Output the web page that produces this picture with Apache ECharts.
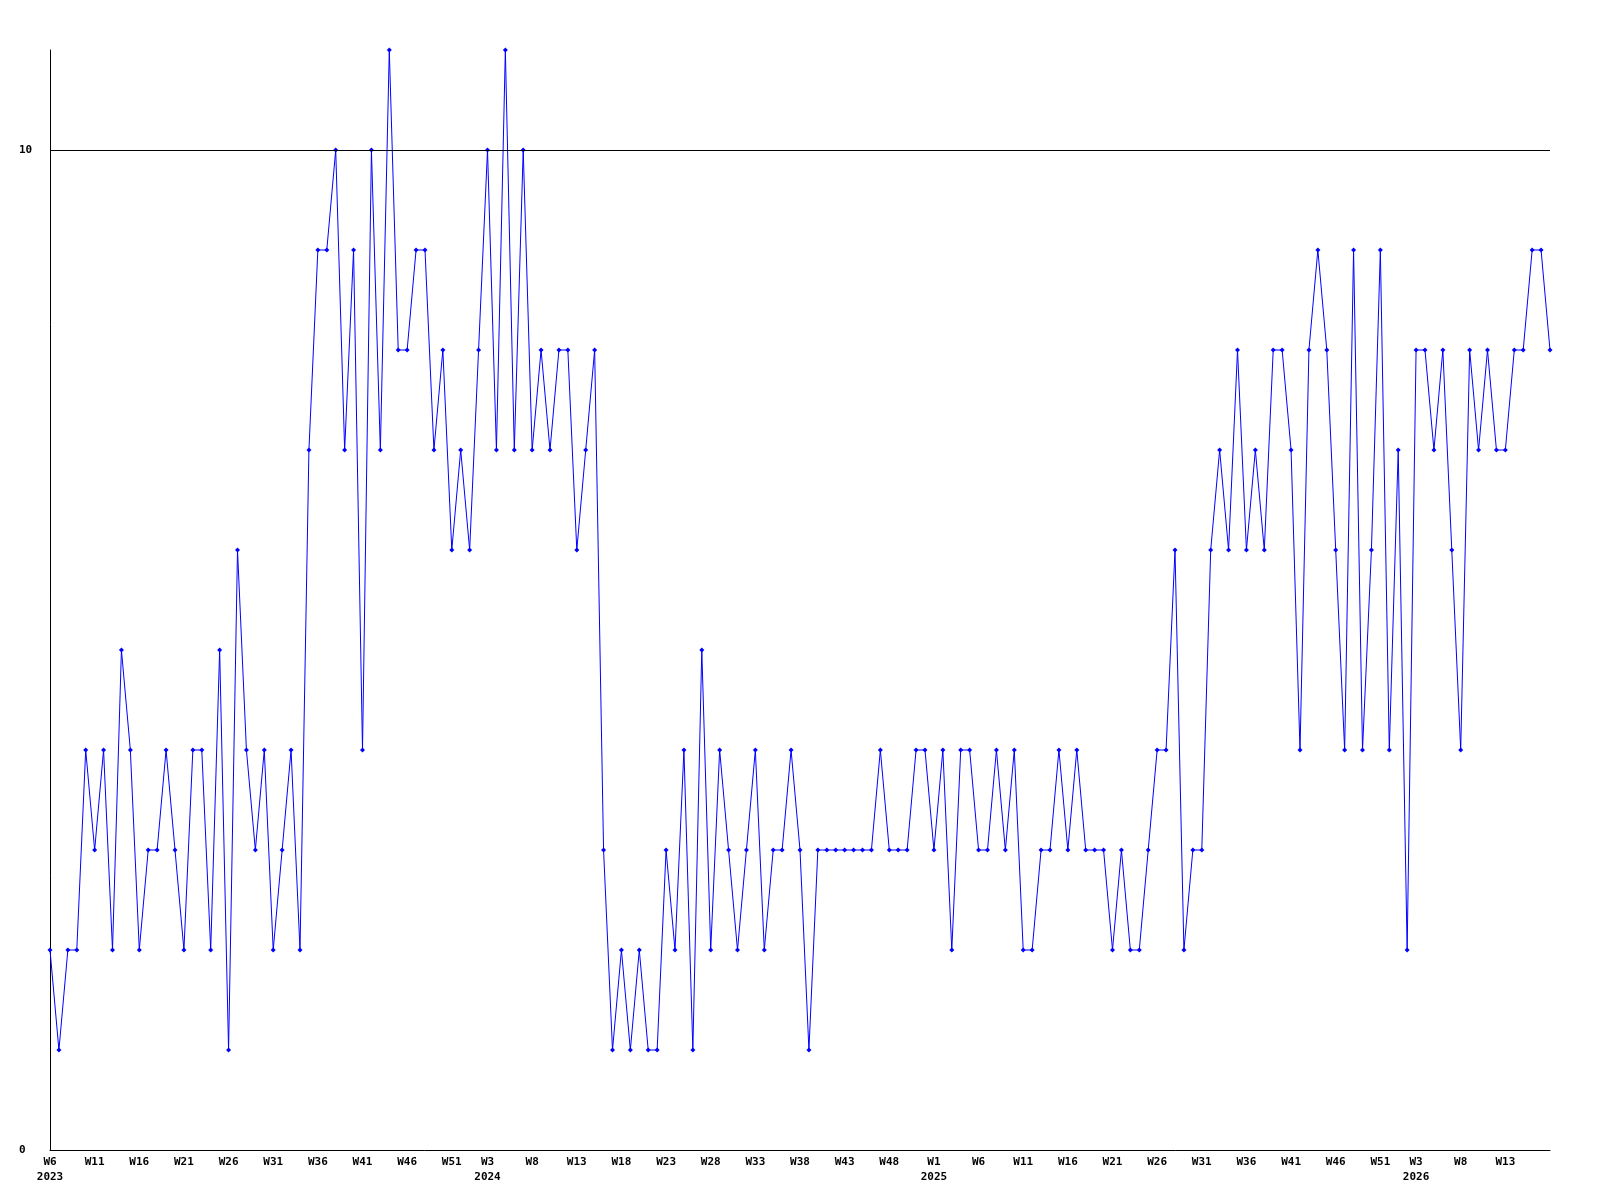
<!DOCTYPE html>
<html>
<head>
<meta charset="utf-8">
<script src="https://cdn.jsdelivr.net/npm/echarts@6/dist/echarts.min.js"></script>
<style>
html,body{margin:0;padding:0;background:#fff;}
#chart{width:1600px;height:1200px;}
</style>
</head>
<body>
<div id="chart"></div>
<script>
// ISO week ranges covered by the series: [year, firstWeek, lastWeek]
const weekRanges = [[2023, 6, 52], [2024, 1, 52], [2025, 1, 52], [2026, 1, 18]];

// Weekly values, 2023-W6 .. 2026-W18
const values = [
  2,1,2,2,4,3,4,2,5,4,2,3,3,4,3,2,4,4,2,5,1,6,4,3,4,2,3,4,2,
  7,9,9,10,7,9,4,10,7,11,8,8,9,9,7,8,6,7,6,8,10,7,11,7,10,7,8,7,
  8,8,6,7,8,3,1,2,1,2,1,1,3,2,4,1,5,2,4,3,2,3,4,2,3,3,4,3,
  1,3,3,3,3,3,3,3,4,3,3,3,4,4,3,4,2,4,4,3,3,4,3,4,2,2,3,3,
  4,3,4,3,3,3,2,3,2,2,3,4,4,6,2,3,3,6,7,6,8,6,7,6,8,8,7,4,
  8,9,8,6,4,9,4,6,9,4,7,2,8,8,7,8,6,4,8,7,8,7,7,8,8,9,9,8
];

// X tick labels shown on the axis
const tickLabels = [
  '2023-W6','2023-W11','2023-W16','2023-W21','2023-W26','2023-W31','2023-W36','2023-W41','2023-W46','2023-W51',
  '2024-W3','2024-W8','2024-W13','2024-W18','2024-W23','2024-W28','2024-W33','2024-W38','2024-W43','2024-W48',
  '2025-W1','2025-W6','2025-W11','2025-W16','2025-W21','2025-W26','2025-W31','2025-W36','2025-W41','2025-W46','2025-W51',
  '2026-W3','2026-W8','2026-W13'
];
// Labels under which the year is printed
const yearLabelAt = ['2023-W6','2024-W3','2025-W1','2026-W3'];

// Y tick labels
const yTicks = [0, 10];
const refLineValue = 10;

const categories = [];
weekRanges.forEach(function (r) {
  for (let w = r[1]; w <= r[2]; w++) categories.push(r[0] + '-W' + w);
});

const shown = new Set(tickLabels);
const yearSet = new Set(yearLabelAt);
const FONT = 'DejaVu Sans Mono';

const chart = echarts.init(document.getElementById('chart'));
chart.setOption({
  animation: false,
  backgroundColor: '#ffffff',
  grid: { left: 50, right: 50, top: 50, bottom: 50 },
  xAxis: {
    type: 'category',
    data: categories,
    boundaryGap: false,
    axisLine: { show: true, lineStyle: { color: '#000', width: 1 } },
    axisTick: { show: false },
    splitLine: { show: false },
    axisLabel: {
      interval: function (index, value) { return shown.has(value); },
      formatter: function (value) {
        const parts = value.split('-');
        return yearSet.has(value) ? parts[1] + '\n' + parts[0] : parts[1];
      },
      fontFamily: FONT,
      fontWeight: 'bold',
      fontSize: 11,
      lineHeight: 15,
      color: '#000',
      margin: 5,
      hideOverlap: false
    }
  },
  yAxis: {
    type: 'value',
    min: 0,
    max: 11,
    interval: 10,
    axisLine: { show: true, lineStyle: { color: '#000', width: 1 } },
    axisTick: { show: false },
    splitLine: { show: false },
    axisLabel: {
      showMaxLabel: false,
      formatter: function (v) { return yTicks.indexOf(v) >= 0 ? String(v) : ''; },
      align: 'left',
      margin: 31,
      fontFamily: FONT,
      fontWeight: 'bold',
      fontSize: 11,
      color: '#000'
    }
  },
  series: [{
    type: 'line',
    data: values,
    symbol: 'diamond',
    symbolSize: 5,
    showAllSymbol: true,
    lineStyle: { color: '#0000ff', width: 1 },
    itemStyle: { color: '#0000ff' },
    markLine: {
      silent: true,
      symbol: 'none',
      label: { show: false },
      lineStyle: { color: '#000', width: 1, type: 'solid' },
      data: [{ yAxis: refLineValue }]
    }
  }]
});
</script>
</body>
</html>
